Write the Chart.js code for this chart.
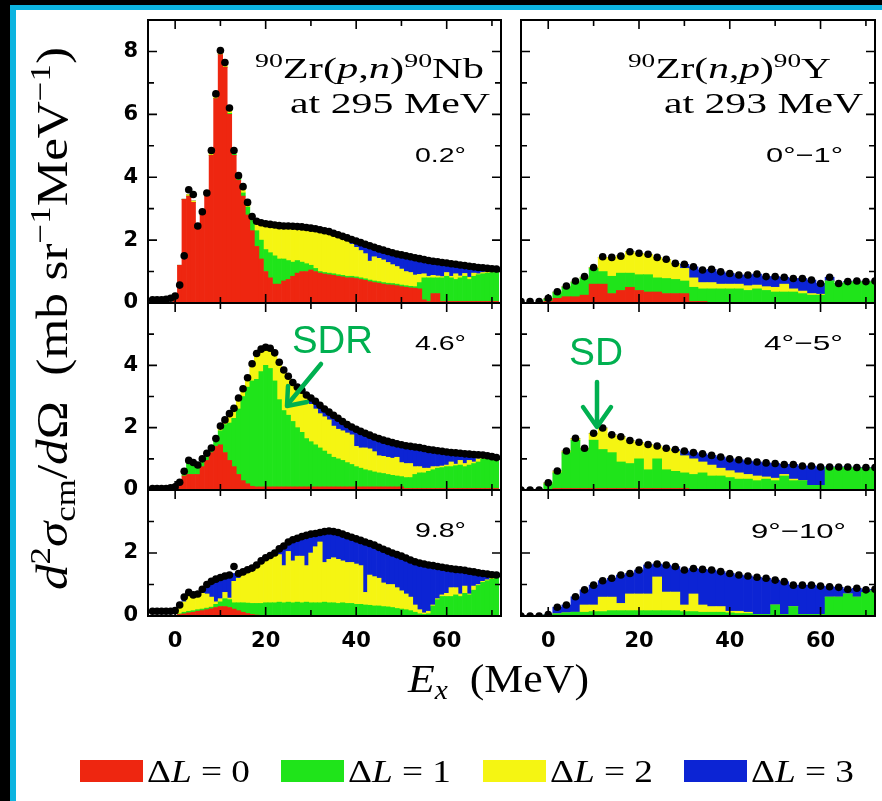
<!DOCTYPE html>
<html><head><meta charset="utf-8">
<script src="https://cdn.jsdelivr.net/npm/chart.js@4.4.1/dist/chart.umd.min.js"></script>
<style>
html,body{margin:0;padding:0;background:#000;}
#stage{position:relative;width:882px;height:801px;overflow:hidden;background:#000;}
#paper{position:absolute;left:10px;top:5px;width:872px;height:796px;border-left:6px solid #0cb4e0;border-top:5px solid #0cb4e0;background:#fff;box-sizing:border-box;}
canvas{position:absolute;z-index:1;}
#ov{position:absolute;left:0;top:0;z-index:2;}
</style></head><body>
<div id="stage"><div id="paper"></div>
<svg id="ov" width="882" height="801" xmlns="http://www.w3.org/2000/svg">
 <g font-family="Liberation Serif" fill="#000">
  <text x="255" y="78" font-size="29" textLength="229" lengthAdjust="spacingAndGlyphs"><tspan font-size="19" dy="-11">90</tspan><tspan dy="11">Zr(</tspan><tspan font-style="italic">p</tspan><tspan>,</tspan><tspan font-style="italic">n</tspan><tspan>)</tspan><tspan font-size="19" dy="-11">90</tspan><tspan dy="11">Nb</tspan></text>
  <text x="290" y="113" font-size="29" textLength="200" lengthAdjust="spacingAndGlyphs">at 295 MeV</text>
  <text x="628" y="78" font-size="29" textLength="203" lengthAdjust="spacingAndGlyphs"><tspan font-size="19" dy="-11">90</tspan><tspan dy="11">Zr(</tspan><tspan font-style="italic">n</tspan><tspan>,</tspan><tspan font-style="italic">p</tspan><tspan>)</tspan><tspan font-size="19" dy="-11">90</tspan><tspan dy="11">Y</tspan></text>
  <text x="664" y="113" font-size="29" textLength="199" lengthAdjust="spacingAndGlyphs">at 293 MeV</text>
  <text transform="translate(67,590) rotate(-90)" font-size="44" textLength="543" lengthAdjust="spacingAndGlyphs"><tspan font-style="italic">d</tspan><tspan font-size="30" dy="-17">2</tspan><tspan font-style="italic" dy="17">σ</tspan><tspan font-size="30" dy="8">cm</tspan><tspan dy="-8">/</tspan><tspan font-style="italic">d</tspan><tspan>Ω&#160;&#160;(mb&#160;sr</tspan><tspan font-size="30" dy="-17">−1</tspan><tspan dy="17">MeV</tspan><tspan font-size="30" dy="-17">−1</tspan><tspan dy="17">)</tspan></text>
  <text x="408" y="692" font-size="40" textLength="181" lengthAdjust="spacingAndGlyphs"><tspan font-style="italic">E</tspan><tspan font-style="italic" font-size="27" dy="7">x</tspan><tspan dy="-7">&#160;&#160;(MeV)</tspan></text>
 </g>
 <g font-family="Liberation Sans" font-size="21" fill="#000">
  <text x="415" y="162" textLength="51" lengthAdjust="spacingAndGlyphs">0.2°</text>
  <text x="415" y="350" textLength="51" lengthAdjust="spacingAndGlyphs">4.6°</text>
  <text x="415" y="537" textLength="51" lengthAdjust="spacingAndGlyphs">9.8°</text>
  <text x="766" y="162" textLength="77" lengthAdjust="spacingAndGlyphs">0°−1°</text>
  <text x="764" y="350" textLength="79" lengthAdjust="spacingAndGlyphs">4°−5°</text>
  <text x="751" y="538" textLength="95" lengthAdjust="spacingAndGlyphs">9°−10°</text>
 </g>
 <g font-family="Liberation Sans" font-size="38" fill="#00b050">
  <text x="292" y="353" textLength="81" lengthAdjust="spacingAndGlyphs">SDR</text>
  <text x="569" y="365" textLength="54" lengthAdjust="spacingAndGlyphs">SD</text>
 </g>
 <g stroke="#00b050" stroke-width="4.5" fill="none" stroke-linecap="round" stroke-linejoin="round">
  <line x1="321" y1="364" x2="288" y2="404"/>
  <polyline points="288,386 287,406 307,402"/>
  <line x1="597" y1="382" x2="597" y2="425"/>
  <polyline points="583,407 597,427 611,407"/>
 </g>
 <g id="legend"></g>
</svg>
</div>
<script>
// ---------- categories (excitation energy, MeV) ----------
const E_PN = [-5,-4,-3,-2,-1,0,1,2,3,4,5,6,7,8,9,10,11,12,13,14,15,16,17,18,19,20,21,22,23,24,25,26,27,28,29,30,31,32,33,34,35,36,37,38,39,40,41,42,43,44,45,46,47,48,49,50,51,52,53,54,55,56,57,58,59,60,61,62,63,64,65,66,67,68,69,70,71];
const E_NP = [-6,-4,-2,0,2,4,6,8,10,12,14,16,18,20,22,24,26,28,30,32,34,36,38,40,42,44,46,48,50,52,54,56,58,60,62,64,66,68,70,72];

// ---------- tick labels ----------
const X_LABELS = [0,20,40,60];
const X_TICK_MARKS = [0,10,20,30,40,50,60,70];
const LEGEND_LABELS = ['0','1','2','3'];

// ---------- (p,n) 0.2 deg ----------
const pn02_data = [0.10,0.10,0.10,0.12,0.15, 0.22,0.57,1.50,3.60,3.45,2.45,2.90,3.50,4.85,6.65, 8.03,7.65,6.20,4.85,4.05,3.70,3.20,2.75,2.60,2.55, 2.52,2.50,2.48,2.46,2.45,2.45,2.44,2.43,2.42,2.40, 2.38,2.36,2.33,2.30,2.27,2.22,2.17,2.12,2.07,2.02, 1.97,1.92,1.87,1.82,1.77,1.72,1.68,1.64,1.60,1.56, 1.53,1.50,1.47,1.44,1.41,1.38,1.35,1.33,1.31,1.29, 1.27,1.25,1.23,1.21,1.19,1.17,1.15,1.13,1.12,1.10, 1.09,1.08];
const pn02_L0 = [0,0,0,0,0, 0.10,1.20,3.30,3.40,3.20,2.40,2.80,3.40,4.70,6.50, 7.90,7.50,6.00,4.70,3.90,3.40,2.80,2.30,1.80,1.40, 1.00,0.80,0.60,0.60,0.70,0.75,0.85,0.95,1.00,1.00, 1.05,1.00,0.95,0.92,0.90,0.88,0.85,0.83,0.80,0.80, 0.78,0.75,0.72,0.68,0.65,0.63,0.60,0.58,0.57,0.55, 0.52,0.50,0.48,0.47,0.45,0.10,0.05,0.30,0.30,0.05, 0.05,0.05,0.05,0.05,0.05,0.05,0.05,0.05,0.05,0.05, 0.05,0.05];
const pn02_L1 = [0,0,0,0,0, 0,0,0,0,0,0,0,0,0,0, 0,0,0.03,0.03,0.03,0.10,0.25,0.40,0.50,0.60, 0.70,0.80,0.90,0.80,0.70,0.60,0.45,0.40,0.30,0.25, 0.15,0.10,0.05,0.05,0.05,0.05,0.05,0.05,0.05,0.05, 0.05,0.05,0.05,0.05,0.05,0.05,0.05,0.05,0.05,0.05, 0.05,0.05,0.05,0.05,0.20,0.70,0.75,0.50,0.50,0.75, 0.80,0.75,0.70,0.75,0.80,0.70,0.80,0.85,0.88,0.90, 0.92,0.93];
const pn02_L2 = [0,0,0,0,0, 0,0,0,0.05,0.05,0.03,0.05,0.07,0.10,0.12, 0.10,0.12,0.15,0.12,0.12,0.20,0.15,0.05,0.30,0.55, 0.80,0.90,1.00,1.05,1.05,1.10,1.15,1.08,1.10,1.15, 1.10,1.20,1.25,1.23,1.22,1.20,1.20,1.17,1.12,1.02, 0.94,0.87,0.80,0.60,0.77,0.74,0.72,0.66,0.60,0.56, 0.51,0.45,0.44,0.37,0.26,0.13,0.05,0.08,0.06,0.04, 0.12,0.05,0.18,0.06,0.09,0.07,0.10,0.03,0.04,0.05, 0.02,0.02];
const pn02_L3 = [0,0,0,0,0, 0,0,0,0,0,0,0,0,0,0, 0,0,0,0,0,0,0,0,0,0, 0,0,0,0,0,0,0,0,0,0, 0.08,0.06,0.08,0.10,0.10,0.09,0.07,0.07,0.10,0.15, 0.20,0.25,0.30,0.49,0.30,0.30,0.31,0.35,0.38,0.40, 0.45,0.50,0.50,0.55,0.50,0.45,0.50,0.45,0.45,0.45, 0.30,0.40,0.30,0.35,0.25,0.35,0.20,0.20,0.15,0.10, 0.10,0.08];

// ---------- (p,n) 4.6 deg ----------
const pn46_data = [0.05,0.05,0.05,0.05,0.07, 0.10,0.25,0.60,0.95,0.88,0.80,1.00,1.18,1.35,1.65, 2.05,2.25,2.45,2.62,2.95,3.25,3.60,4.05,4.38,4.52, 4.58,4.55,4.40,4.10,3.85,3.65,3.45,3.30,3.20,3.05, 2.95,2.85,2.72,2.60,2.50,2.40,2.30,2.20,2.10,2.02, 1.95,1.88,1.82,1.76,1.70,1.65,1.60,1.56,1.52,1.48, 1.45,1.42,1.40,1.38,1.36,1.33,1.30,1.28,1.26,1.24, 1.22,1.20,1.19,1.18,1.16,1.15,1.14,1.13,1.12,1.10, 1.07,1.04];
const pn46_L0 = [0,0,0,0,0, 0,0.30,0.45,0.50,0.50,0.50,0.75,0.95,1.20,1.40, 1.45,1.20,0.95,0.75,0.50,0.30,0.20,0.12,0.10,0.10, 0.10,0.10,0.10,0.10,0.10,0.10,0.10,0.10,0.10,0.10, 0.10,0.10,0.10,0.10,0.10,0.10,0.10,0.10,0.10,0.10, 0.10,0.10,0.10,0.10,0.10,0.10,0.10,0.10,0.10,0.10, 0.10,0.05,0.05,0.05,0.05,0.05,0.05,0.05,0.05,0.05, 0.05,0.05,0.05,0.05,0.05,0.05,0.05,0.05,0.05,0.05, 0.05,0.05];
const pn46_L1 = [0,0,0,0,0, 0,0,0.15,0.35,0.35,0.30,0.25,0.20,0.10,0.20, 0.45,0.90,1.20,1.55,2.10,2.70,3.10,3.38,3.45,3.70, 3.90,3.80,3.40,2.80,2.45,2.30,2.10,1.90,1.75,1.55, 1.45,1.35,1.25,1.15,1.05,0.95,0.90,0.85,0.78,0.72, 0.65,0.60,0.55,0.52,0.48,0.45,0.43,0.40,0.37,0.35, 0.33,0.35,0.35,0.45,0.50,0.50,0.55,0.60,0.65,0.67, 0.70,0.70,0.73,0.75,0.70,0.75,0.80,0.85,0.95,0.95, 0.92,0.90];
const pn46_L2 = [0,0,0,0,0, 0,0,0,0.10,0.03,0,0,0.03,0.05,0.05, 0.15,0.15,0.30,0.32,0.35,0.25,0.30,0.55,0.83,0.72, 0.58,0.65,0.90,1.20,1.30,1.25,1.25,1.30,1.35,1.30, 1.20,1.15,1.10,1.10,1.10,1.00,0.95,0.95,0.95,0.95, 0.65,0.65,0.70,0.70,0.65,0.55,0.55,0.55,0.55,0.60, 0.45,0.45,0.45,0.25,0.20,0.15,0.10,0.10,0.05,0.05, 0.05,0.15,0.05,0.15,0.10,0.15,0.05,0.10,0.05,0.05, 0.05,0.05];
const pn46_L3 = [0,0,0,0,0, 0,0,0,0,0,0,0,0,0,0, 0,0,0,0,0,0,0,0,0,0, 0,0,0,0,0,0,0,0,0,0.10, 0.20,0.25,0.27,0.25,0.25,0.35,0.35,0.30,0.27,0.25, 0.55,0.53,0.47,0.44,0.47,0.55,0.52,0.51,0.50,0.43, 0.57,0.57,0.55,0.63,0.61,0.63,0.60,0.53,0.51,0.47, 0.42,0.30,0.36,0.23,0.31,0.20,0.24,0.13,0.07,0.05, 0,0];

// ---------- (p,n) 9.8 deg ----------
const pn98_data = [0.15,0.15,0.15,0.15,0.15, 0.17,0.35,0.60,0.75,0.67,0.70,0.85,1.00,1.10,1.17, 1.22,1.27,1.30,1.57,1.35,1.40,1.47,1.52,1.62,1.75, 1.85,1.92,2.00,2.13,2.22,2.35,2.42,2.47,2.52,2.56, 2.60,2.62,2.65,2.68,2.70,2.68,2.65,2.60,2.55,2.50, 2.45,2.40,2.35,2.30,2.25,2.18,2.12,2.06,2.00,1.95, 1.90,1.84,1.78,1.72,1.68,1.65,1.62,1.60,1.57,1.55, 1.52,1.50,1.48,1.47,1.45,1.42,1.40,1.37,1.35,1.33, 1.31,1.30];
const pn98_L0 = [0,0,0,0,0, 0,0.05,0.07,0.10,0.12,0.15,0.17,0.20,0.23,0.27, 0.30,0.30,0.27,0.22,0.17,0.12,0.08,0.05,0.03,0.02, 0.02,0.02,0.02,0.02,0.02,0.02,0.02,0.02,0.02,0.02, 0.02,0.02,0.02,0.02,0.02,0.02,0.02,0.02,0.02,0.02, 0.02,0.02,0.02,0.02,0.02,0.02,0.02,0.02,0.02,0.02, 0.02,0.02,0.02,0.02,0.02,0.02,0.02,0.02,0.02,0.02, 0.02,0.02,0.02,0.02,0.02,0.02,0.02,0.02,0.02,0.02, 0.02,0.02];
const pn98_L1 = [0,0,0,0,0, 0,0.02,0.05,0.05,0.05,0.05,0.05,0.05,0.05,0.10, 0.15,0.25,0.25,0.20,0.25,0.30,0.33,0.35,0.37,0.38, 0.40,0.40,0.40,0.42,0.40,0.42,0.40,0.42,0.40,0.42, 0.40,0.40,0.40,0.42,0.40,0.40,0.38,0.40,0.38,0.38, 0.35,0.35,0.33,0.32,0.30,0.30,0.28,0.27,0.25,0.22, 0.20,0.18,0.15,0.10,0.05,0.03,0.05,0.30,0.50,0.60, 0.60,0.60,0.65,0.60,0.70,0.65,0.80,0.95,1.05,1.10, 1.15,1.20];
const pn98_L2 = [0,0,0,0,0, 0,0.23,0.33,0.57,0.48,0.48,0.50,0.45,0.32,0.08, 0.10,0.20,0.05,0.68,0.78,0.88,0.99,1.05,1.15,1.25, 1.33,1.43,1.48,1.51,1.18,1.61,1.33,1.46,1.48,1.16, 1.58,1.78,1.93,1.26,1.38,1.43,1.40,1.33,1.30,1.30, 1.28,1.23,0.40,0.96,0.93,0.88,0.75,0.71,0.73,0.66, 0.58,0.50,0.43,0.23,0.13,0.05,0.08,0.03,0.03,0.05, 0.10,0.28,0.23,0.08,0.23,0.03,0.13,0.03,0.03,0.03, 0.03,0.03];
const pn98_L3 = [0,0,0,0,0, 0,0.05,0.15,0.03,0.02,0.02,0.13,0.30,0.50,0.72, 0.67,0.52,0.73,0.25,0.15,0.10,0.07,0.07,0.07,0.10, 0.10,0.07,0.10,0.18,0.62,0.30,0.67,0.57,0.62,0.96, 0.60,0.42,0.30,0.98,0.90,0.83,0.85,0.85,0.85,0.80, 0.80,0.80,1.60,1.00,1.00,0.98,1.07,1.06,1.00,1.05, 1.10,1.14,1.18,1.37,1.48,1.55,1.47,1.25,1.02,0.88, 0.80,0.60,0.58,0.77,0.50,0.72,0.45,0.37,0.25,0.18, 0.11,0.05];

// ---------- (n,p) 0-1 deg ----------
const np01_data = [0.05,0.05,0.05,0.15, 0.36,0.54,0.70,0.84,1.13,1.47,1.45,1.49,1.63,1.58, 1.55,1.45,1.39,1.26,1.23,1.15,1.05,1.07,0.99,0.94, 0.89,0.89,0.92,0.84,0.84,0.82,0.78,0.78,0.73,0.62, 0.82,0.62,0.68,0.70,0.68,0.70];
const np01_L0 = [0,0,0,0.05, 0.15,0.20,0.20,0.25,0.60,0.60,0.30,0.40,0.50,0.40, 0.35,0.35,0.30,0.30,0.30,0.05,0.05,0.02,0.02,0.02, 0.02,0.02,0.02,0.02,0.02,0.02,0.02,0.02,0.02,0.02, 0.02,0.02,0.02,0.02,0.02,0.02];
const np01_L1 = [0,0,0,0.07, 0.18,0.30,0.45,0.55,0.50,0.40,0.55,0.55,0.45,0.50, 0.55,0.45,0.48,0.45,0.40,0.45,0.40,0.43,0.43,0.43, 0.43,0.38,0.43,0.38,0.33,0.33,0.33,0.28,0.23,0.23, 0.68,0.58,0.63,0.66,0.64,0.66];
const np01_L2 = [0,0,0,0.02, 0.02,0.02,0.02,0.02,0.03,0.45,0.60,0.55,0.68,0.68, 0.65,0.65,0.60,0.50,0.40,0.30,0.20,0.20,0.15,0.15, 0.15,0.15,0.12,0.12,0.15,0.25,0.10,0.08,0.05,0.03, 0,0,0,0,0,0];
const np01_L3 = [0,0,0,0, 0,0,0,0,0,0,0,0,0,0, 0,0,0,0,0.13,0.35,0.40,0.42,0.39,0.34, 0.29,0.34,0.35,0.32,0.34,0.22,0.33,0.40,0.43,0.34, 0.12,0.02,0.03,0.02,0.02,0.02];

// ---------- (n,p) 4-5 deg ----------
const np45_data = [0,0,0,0.23, 0.61,1.25,1.66,1.34,1.82,1.99,1.77,1.71,1.59,1.53, 1.46,1.41,1.34,1.30,1.25,1.20,1.16,1.11,1.06,1.00, 0.97,0.93,0.90,0.87,0.85,0.82,0.82,0.77,0.77,0.74, 0.74,0.74,0.74,0.72,0.72,0.72];
const np45_L0 = [0,0,0,0.02, 0.05,0.05,0.05,0.05,0.05,0.05,0.05,0.05,0.05,0.05, 0.05,0.05,0.05,0.05,0.05,0.02,0.02,0.02,0.02,0.02, 0.02,0.02,0.02,0.02,0.02,0.02,0.02,0.02,0.02,0.02, 0.02,0.02,0.02,0.02,0.02,0.02];
const np45_L1 = [0,0,0,0.18, 0.50,1.15,1.55,1.27,1.55,1.25,1.15,0.85,0.80,0.95, 0.60,0.95,0.60,0.55,0.50,0.48,0.53,0.43,0.43,0.38, 0.33,0.33,0.28,0.33,0.28,0.43,0.28,0.28,0.13,0.13, 0.70,0.70,0.70,0.68,0.68,0.68];
const np45_L2 = [0,0,0,0.03, 0.06,0.05,0.06,0.02,0.22,0.69,0.57,0.81,0.74,0.53, 0.81,0.41,0.69,0.65,0.55,0.50,0.35,0.35,0.25,0.22, 0.20,0.15,0.15,0.07,0.08,0.05,0.05,0,0,0, 0,0,0,0,0,0];
const np45_L3 = [0,0,0,0, 0,0,0,0,0,0,0,0,0,0, 0,0,0,0.05,0.15,0.20,0.26,0.31,0.36,0.38, 0.42,0.43,0.45,0.45,0.47,0.32,0.47,0.47,0.62,0.59, 0.02,0.02,0.02,0.02,0.02,0.02];

// ---------- (n,p) 9-10 deg ----------
const np910_data = [0,0,0,0.05, 0.28,0.35,0.61,0.83,0.98,1.12,1.20,1.30,1.35,1.46, 1.62,1.65,1.62,1.57,1.46,1.51,1.48,1.46,1.41,1.35, 1.30,1.27,1.23,1.20,1.14,1.09,0.98,0.98,0.98,0.95, 0.93,0.91,0.85,0.88,0.83,0.85];
const np910_L0 = [0,0,0,0, 0.02,0.02,0.02,0.02,0.02,0.02,0.02,0.02,0.02,0.02, 0.02,0.02,0.02,0.02,0.02,0.02,0.02,0.02,0.02,0.02, 0,0,0,0,0,0,0,0,0,0, 0,0,0,0,0,0];
const np910_L1 = [0,0,0,0.03, 0.05,0.08,0.10,0.10,0.12,0.12,0.15,0.15,0.15,0.15, 0.15,0.15,0.15,0.15,0.12,0.12,0.10,0.10,0.10,0.08, 0.08,0.08,0.05,0.05,0.35,0.05,0.30,0.05,0.05,0.05, 0.60,0.60,0.70,0.60,0.75,0.80];
const np910_L2 = [0,0,0,0, 0,0,0,0.23,0.21,0.46,0.43,0.23,0.53,0.53, 0.53,1.07,0.59,0.59,0.21,0.56,0.23,0.18,0.18,0.05, 0.07,0.04,0,0,0,0,0,0,0,0, 0,0,0,0,0,0];
const np910_L3 = [0,0,0,0.02, 0.21,0.25,0.49,0.48,0.63,0.52,0.60,0.90,0.65,0.76, 0.92,0.41,0.86,0.81,1.11,0.81,1.13,1.16,1.11,1.20, 1.15,1.15,1.18,1.15,0.79,1.04,0.68,0.93,0.93,0.90, 0.33,0.31,0.15,0.28,0.08,0.05];

// ---------- styling ----------
const COLORS = ['#ee2610','#1fe41a','#f5f512','#0c24d4'];
const stage = document.getElementById('stage');

const framePlugin = {
  id: 'frame',
  afterDatasetsDraw(chart) {
    const {ctx, chartArea: a, scales: {x, y}} = chart;
    ctx.save();
    ctx.strokeStyle = '#000';
    ctx.lineWidth = 1.6;
    ctx.beginPath();
    for (const v of X_TICK_MARKS) {
      const px = x.getPixelForValue(v);
      const L = X_LABELS.includes(v) ? 9 : 6;
      ctx.moveTo(px, a.bottom); ctx.lineTo(px, a.bottom - L);
      ctx.moveTo(px, a.top); ctx.lineTo(px, a.top + L);
    }
    for (let v = 1; v < y.max; v++) {
      const py = y.getPixelForValue(v);
      const L = v % 2 === 0 ? 9 : 6;
      ctx.moveTo(a.left, py); ctx.lineTo(a.left + L, py);
      ctx.moveTo(a.right, py); ctx.lineTo(a.right - L, py);
    }
    ctx.stroke();
    ctx.lineWidth = 2;
    ctx.strokeRect(a.left, a.top, a.width, a.height);
    ctx.restore();
  }
};

function panel(p) {
  const axW = p.showY ? 44 : 0, axH = p.showX ? 40 : 0;
  const padL = p.showY ? 0 : 6, padT = 6, padR = 6, padB = p.showX ? 0 : 6;
  const W = padL + axW + p.width + padR, H = padT + p.height + axH + padB;
  const cv = document.createElement('canvas');
  cv.width = W; cv.height = H;
  cv.style.left = (p.left - padL - axW) + 'px';
  cv.style.top = (p.top - padT) + 'px';
  cv.style.width = W + 'px'; cv.style.height = H + 'px';
  stage.appendChild(cv);
  const pts = arr => p.E.map((e, i) => ({x: e, y: arr[i]}));
  const layers = [p.L0, p.L1, p.L2, p.L3].map((arr, k) => ({
    type: 'bar', label: 'ΔL=' + k, data: pts(arr), backgroundColor: COLORS[k],
    borderWidth: 0, barPercentage: 1, categoryPercentage: 1, stack: 'fit', order: 1
  }));
  const yLabels = [];
  for (let v = 0; v < p.ymax; v += 2) yLabels.push(v);
  new Chart(cv, {
    type: 'bar',
    data: {datasets: [...layers, {
      type: 'scatter', label: 'data', data: pts(p.D), backgroundColor: '#000',
      pointRadius: 3.8, pointBorderWidth: 0, borderWidth: 0, stack: 'exp', order: 0
    }]},
    options: {
      responsive: false, animation: false, devicePixelRatio: 1,
      layout: {autoPadding: false, padding: {left: padL, top: padT, right: padR, bottom: padB}},
      plugins: {legend: {display: false}, tooltip: {enabled: false}},
      scales: {
        x: {
          type: 'linear', min: -6, max: 72, stacked: true, offset: false,
          grid: {display: false, drawTicks: false}, border: {display: false},
          ticks: {display: p.showX, autoSkip: false, maxRotation: 0, padding: 13, color: '#000',
                  font: {family: 'DejaVu Sans', size: 21, weight: 'bold'}},
          afterBuildTicks: s => { s.ticks = X_LABELS.map(v => ({value: v})); },
          afterFit: s => { s.height = axH; s.paddingLeft = 0; s.paddingRight = 0; s.paddingTop = 0; s.paddingBottom = 0; }
        },
        y: {
          type: 'linear', min: 0, max: p.ymax, stacked: true,
          grid: {display: false, drawTicks: false}, border: {display: false},
          ticks: {display: p.showY, autoSkip: false, padding: 10, color: '#000',
                  font: {family: 'DejaVu Sans', size: 21, weight: 'bold'}},
          afterBuildTicks: s => { s.ticks = yLabels.map(v => ({value: v})); },
          afterFit: s => { s.width = axW; s.paddingLeft = 0; s.paddingRight = 0; s.paddingTop = 0; s.paddingBottom = 0; }
        }
      }
    },
    plugins: [framePlugin]
  });
}

const LEFT = {left: 148, width: 353}, RIGHT = {left: 521, width: 354};
const ROWS = [{top: 20, height: 283, ymax: 9}, {top: 303, height: 187, ymax: 6}, {top: 490, height: 126, ymax: 4}];

panel({...LEFT, ...ROWS[0], showY: true, showX: false, E: E_PN, L0: pn02_L0, L1: pn02_L1, L2: pn02_L2, L3: pn02_L3, D: pn02_data});
panel({...LEFT, ...ROWS[1], showY: true, showX: false, E: E_PN, L0: pn46_L0, L1: pn46_L1, L2: pn46_L2, L3: pn46_L3, D: pn46_data});
panel({...LEFT, ...ROWS[2], showY: true, showX: true, E: E_PN, L0: pn98_L0, L1: pn98_L1, L2: pn98_L2, L3: pn98_L3, D: pn98_data});
panel({...RIGHT, ...ROWS[0], showY: false, showX: false, E: E_NP, L0: np01_L0, L1: np01_L1, L2: np01_L2, L3: np01_L3, D: np01_data});
panel({...RIGHT, ...ROWS[1], showY: false, showX: false, E: E_NP, L0: np45_L0, L1: np45_L1, L2: np45_L2, L3: np45_L3, D: np45_data});
panel({...RIGHT, ...ROWS[2], showY: false, showX: true, E: E_NP, L0: np910_L0, L1: np910_L1, L2: np910_L2, L3: np910_L3, D: np910_data});

// ---------- shared legend ----------
const NS = 'http://www.w3.org/2000/svg';
const lg = document.getElementById('legend');
const LEG_X = [80, 281, 483, 684];
LEGEND_LABELS.forEach((lab, k) => {
  const r = document.createElementNS(NS, 'rect');
  r.setAttribute('x', LEG_X[k]); r.setAttribute('y', 760); r.setAttribute('width', 63); r.setAttribute('height', 22);
  r.setAttribute('fill', COLORS[k]); lg.appendChild(r);
  const t = document.createElementNS(NS, 'text');
  t.setAttribute('x', LEG_X[k] + 67); t.setAttribute('y', 782);
  t.setAttribute('font-family', 'Liberation Serif'); t.setAttribute('font-size', 32);
  t.setAttribute('textLength', 103); t.setAttribute('lengthAdjust', 'spacingAndGlyphs');
  const a = document.createElementNS(NS, 'tspan'); a.textContent = 'Δ';
  const b = document.createElementNS(NS, 'tspan'); b.textContent = 'L'; b.setAttribute('font-style', 'italic');
  const c = document.createElementNS(NS, 'tspan'); c.textContent = '\u00a0=\u00a0' + lab;
  t.appendChild(a); t.appendChild(b); t.appendChild(c);
  lg.appendChild(t);
});
</script>
</body></html>
